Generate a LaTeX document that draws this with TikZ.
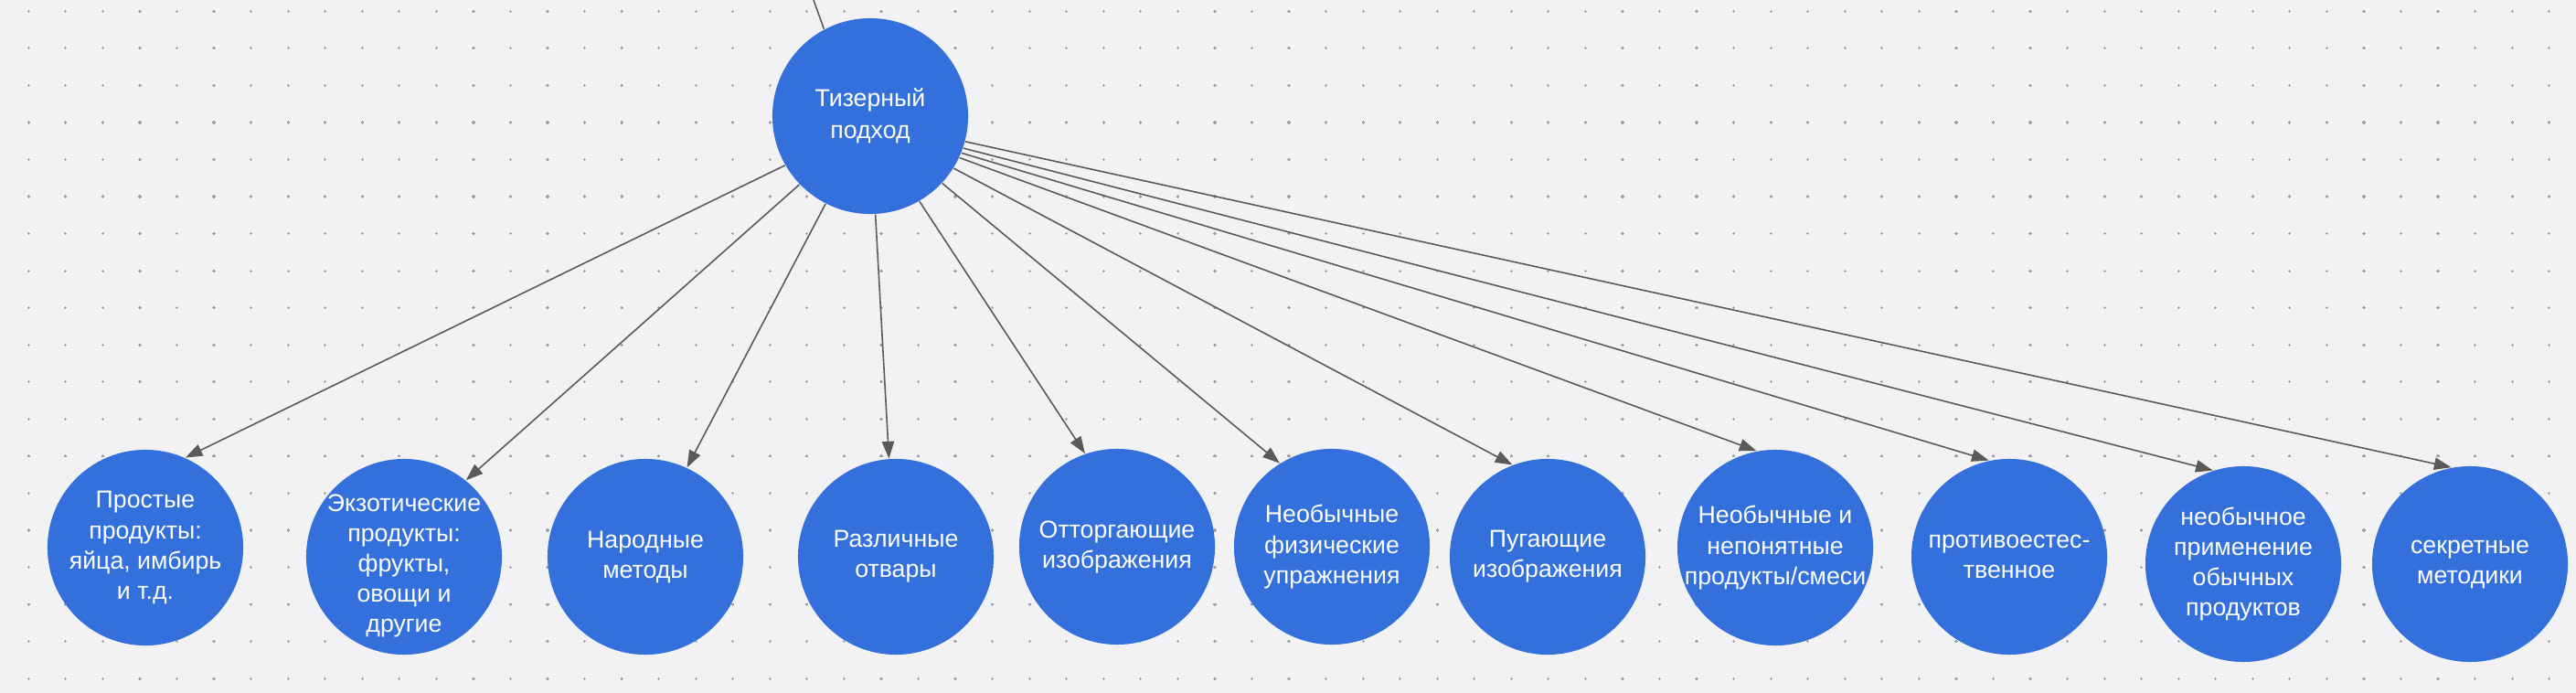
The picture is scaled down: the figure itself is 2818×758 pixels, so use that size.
\documentclass[tikz,border=0pt]{standalone}
\usepackage{fontspec}
\setmainfont{Liberation Sans}
\usetikzlibrary{arrows.meta}
\definecolor{bgc}{RGB}{242,242,245}
\definecolor{dotc}{RGB}{160,160,166}
\definecolor{nodeblue}{RGB}{51,112,220}
\definecolor{linec}{RGB}{90,90,90}
\tikzset{
  bubble/.style={circle, fill=nodeblue, draw=none, minimum size=2.14cm, inner sep=0pt},
  txt/.style={text=white, align=center, inner sep=0pt, font=\fontsize{7.6}{9.4}\selectfont},
  conn/.style={draw=linec, line width=0.45pt, -{Triangle[length=5.3pt,width=3.8pt]}, fill=linec},
  plainconn/.style={draw=linec, line width=0.45pt},
}
\begin{document}
\begin{tikzpicture}[x=0.01cm,y=-0.01cm]
\useasboundingbox (0,0) rectangle (2818,758);
\fill[bgc] (0,0) rectangle (2818,758);
% dot grid
\foreach \i in {0,...,68}{
  \foreach \j in {0,...,18}{
    \pgfmathsetmacro{\px}{31.3+40.55*\i}
    \pgfmathsetmacro{\py}{12.3+40.55*\j}
    \draw[dotc, line width=0.35pt] (\px-1.6,\py) -- (\px+1.6,\py) (\px,\py-1.6) -- (\px,\py+1.6);
  }
}
% nodes
\node[bubble] (top) at (952,127) {};
\node[txt, font=\fontsize{7.6}{10}\selectfont] (topt) at (top) {Тизерный\\подход};
\node[bubble] (n1) at (159,599) {};
\node[txt] (n1t) at (n1) {Простые\\продукты:\\яйца, имбирь\\и т.д.};
\node[bubble] (n2) at (442,609) {};
\node[txt] (n2t) at (442,619) {Экзотические\\продукты:\\фрукты,\\овощи и\\другие};
\node[bubble] (n3) at (706,609) {};
\node[txt] (n3t) at (n3) {Народные\\методы};
\node[bubble] (n4) at (980,609) {};
\node[txt] (n4t) at (n4) {Различные\\отвары};
\node[bubble] (n5) at (1222,598) {};
\node[txt] (n5t) at (n5) {Отторгающие\\изображения};
\node[bubble] (n6) at (1457,598) {};
\node[txt] (n6t) at (n6) {Необычные\\физические\\упражнения};
\node[bubble] (n7) at (1693,609) {};
\node[txt] (n7t) at (n7) {Пугающие\\изображения};
\node[bubble] (n8) at (1942,599) {};
\node[txt] (n8t) at (n8) {Необычные и\\непонятные\\продукты/смеси};
\node[bubble] (n9) at (2198,609) {};
\node[txt] (n9t) at (n9) {противоестес-\\твенное};
\node[bubble] (n10) at (2454,617) {};
\node[txt] (n10t) at (n10) {необычное\\применение\\обычных\\продуктов};
\node[bubble] (n11) at (2702,617) {};
\node[txt] (n11t) at (n11) {секретные\\методики};
% incoming line from above
\coordinate (inc) at (890,0);
\draw[plainconn] (inc) -- (top.118.6);
% connectors
\draw[conn] (top.210.7) -- (n1.66);
\draw[conn] (top.224.6) -- (n2.51);
\draw[conn] (top.243) -- (n3.65);
\draw[conn] (top.273.6) -- (n4.94);
\draw[conn] (top.300.4) -- (n5.109.4);
\draw[conn] (top.317) -- (n6.122.5);
\draw[conn] (top.328) -- (n7.111.5);
\draw[conn] (top.335) -- (n8.101.7);
\draw[conn] (top.338) -- (n9.102);
\draw[conn] (top.341.6) -- (n10.108);
\draw[conn] (top.345) -- (n11.101.7);
\end{tikzpicture}
\end{document}
